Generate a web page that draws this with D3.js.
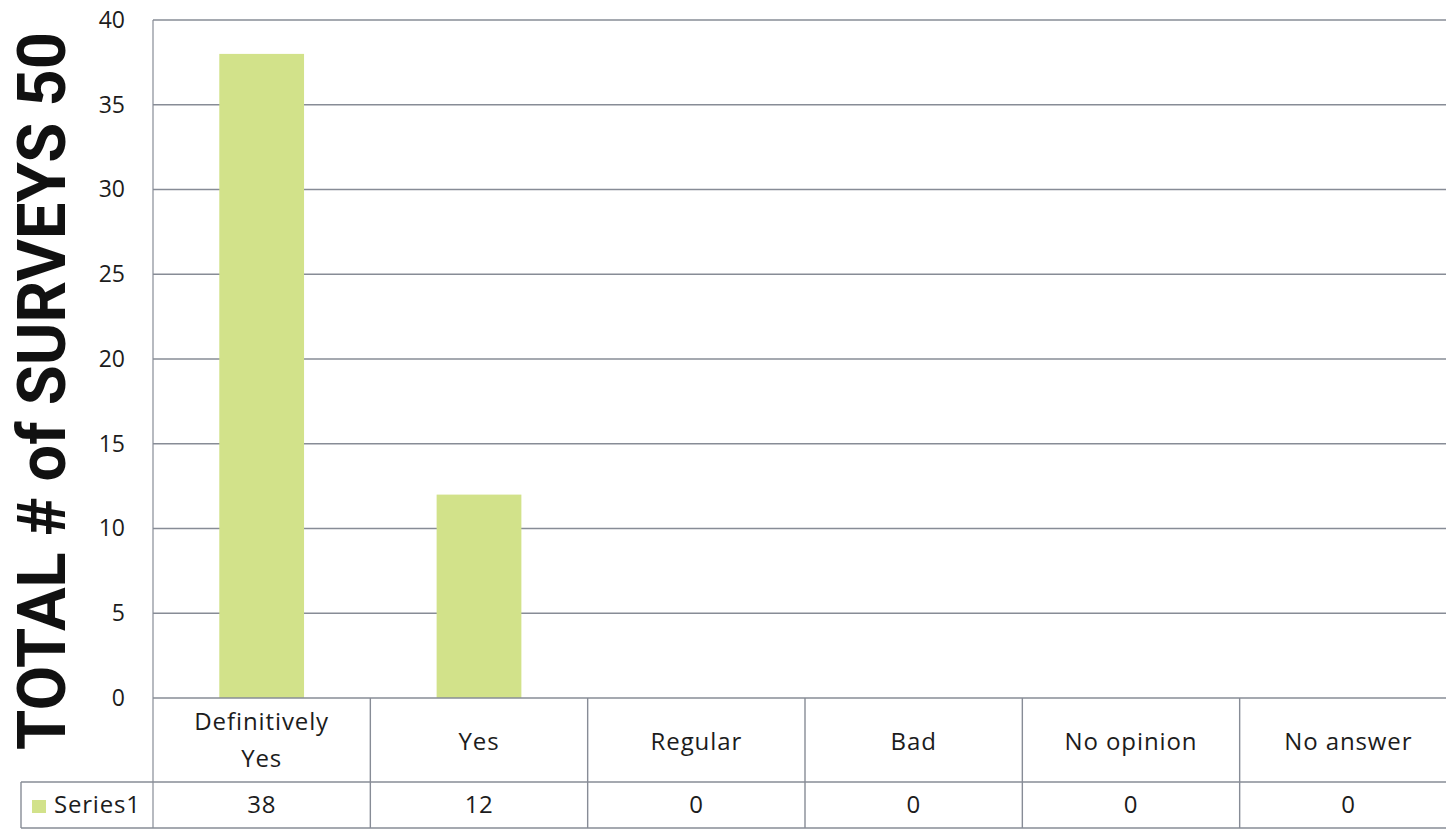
<!DOCTYPE html>
<html>
<head>
<meta charset="utf-8">
<script src="https://cdn.jsdelivr.net/npm/d3@7"></script>
<style>
  html, body { margin: 0; padding: 0; background: #ffffff; }
  svg { display: block; }
  text { font-family: "Open Sans", "Noto Sans", sans-serif; fill: #1c1c1c; }
</style>
</head>
<body>
<svg id="chart" width="1446" height="830"></svg>
<script>
const categories = ["Definitively Yes", "Yes", "Regular", "Bad", "No opinion", "No answer"];
const categoryLines = [["Definitively", "Yes"], ["Yes"], ["Regular"], ["Bad"], ["No opinion"], ["No answer"]];
const seriesName = "Series1";
const seriesValues = [38, 12, 0, 0, 0, 0];
const yTicks = [0, 5, 10, 15, 20, 25, 30, 35, 40];
const yTitle = "TOTAL # of SURVEYS 50";

(function () {
const svg = d3.select("#chart");
const W = 1446;
const plotL = 153, plotR = 1457, plotT = 20, plotB = 698;
const row1Bottom = 782, row2Bottom = 828, tableLeft = 21;
const gridColor = "#878c96";
const barColor = "#d2e28a";

const y = d3.scaleLinear().domain([0, 40]).range([plotB, plotT]);
const xCell = d3.scaleBand().domain(categories).range([plotL, plotR]).padding(0);
const xBar = d3.scaleBand().domain(categories).range([plotL, plotR]).paddingInner(0.61).paddingOuter(0.305);

// gridlines
svg.append("g").selectAll("line").data(yTicks.filter(d => d > 0)).join("line")
  .attr("x1", plotL).attr("x2", W)
  .attr("y1", d => y(d)).attr("y2", d => y(d))
  .attr("stroke", gridColor).attr("stroke-width", 1.4);

// y axis labels
const yAxis = d3.axisLeft(y).tickValues(yTicks).tickSize(0).tickPadding(0);
const gy = svg.append("g").attr("transform", `translate(125,0)`).call(yAxis);
gy.select(".domain").remove();
gy.selectAll("text").attr("font-size", 23).attr("fill", "#1c1c1c")
  .style("font-family", "'Open Sans', sans-serif");

// bars
svg.append("g").selectAll("rect").data(categories).join("rect")
  .attr("x", d => xBar(d))
  .attr("width", xBar.bandwidth())
  .attr("y", (d, i) => y(seriesValues[i]))
  .attr("height", (d, i) => y(0) - y(seriesValues[i]))
  .attr("fill", barColor);

// plot left border
svg.append("line").attr("x1", plotL).attr("x2", plotL).attr("y1", plotT).attr("y2", row2Bottom)
  .attr("stroke", gridColor).attr("stroke-width", 1.2);

// table lines
const tbl = svg.append("g").attr("stroke", gridColor).attr("stroke-width", 1.4);
tbl.append("line").attr("x1", plotL).attr("x2", W).attr("y1", plotB).attr("y2", plotB);
tbl.append("line").attr("x1", tableLeft).attr("x2", W).attr("y1", row1Bottom).attr("y2", row1Bottom);
tbl.append("line").attr("x1", tableLeft).attr("x2", W).attr("y1", row2Bottom).attr("y2", row2Bottom);
tbl.append("line").attr("x1", tableLeft).attr("x2", tableLeft).attr("y1", row1Bottom).attr("y2", row2Bottom);
tbl.selectAll("line.col").data(categories.slice(1)).join("line").attr("class", "col")
  .attr("x1", d => xCell(d)).attr("x2", d => xCell(d))
  .attr("y1", plotB).attr("y2", row2Bottom);

// category labels
const catG = svg.append("g");
categories.forEach((c, i) => {
  const lines = categoryLines[i];
  const cx = xCell(c) + xCell.bandwidth() / 2;
  const t = catG.append("text").attr("x", cx).attr("text-anchor", "middle")
    .attr("font-size", 24).attr("letter-spacing", 0.9);
  if (lines.length === 2) {
    t.append("tspan").attr("x", cx).attr("y", 730).text(lines[0]);
    t.append("tspan").attr("x", cx).attr("y", 767).text(lines[1]);
  } else {
    t.attr("y", 750).text(lines[0]);
  }
});

// series row
svg.append("rect").attr("x", 32).attr("y", 800).attr("width", 14).attr("height", 13).attr("fill", barColor);
svg.append("text").attr("x", 54).attr("y", 813).attr("font-size", 24).attr("letter-spacing", 0.8).text(seriesName);
svg.append("g").selectAll("text").data(categories).join("text")
  .attr("x", d => xCell(d) + xCell.bandwidth() / 2)
  .attr("y", 813)
  .attr("text-anchor", "middle")
  .attr("font-size", 24)
  .attr("letter-spacing", 0.6)
  .text((d, i) => seriesValues[i]);

// y title
svg.append("text")
  .attr("transform", "translate(65,391) rotate(-90)")
  .attr("text-anchor", "middle")
  .attr("font-size", 66)
  .attr("font-weight", "bold")
  .attr("textLength", 718)
  .attr("lengthAdjust", "spacingAndGlyphs")
  .style("font-family", "Roboto, 'Liberation Sans', sans-serif")
  .style("fill", "#111")
  .text(yTitle);
})();
</script>
</body>
</html>
